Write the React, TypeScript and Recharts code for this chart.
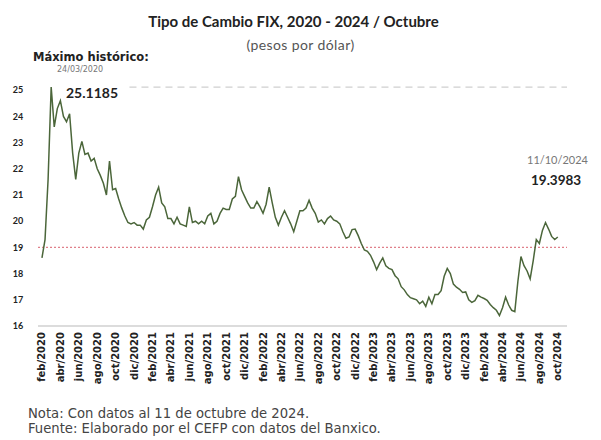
import React from "react";
import { LineChart, Line, XAxis, YAxis, ReferenceLine } from "recharts";

// Tipo de cambio FIX, lecturas cada ~10 dias desde feb/2020
const fix2020 = [
  18.6, 19.3, 21.6, 25.1185, 23.6, 24.3, 24.6, 24.0, 23.8, 24.1, 22.6, 21.6, 22.6, 23.05, 22.55, 22.6, 22.3,
  22.4, 22.0, 21.75, 21.45, 21.0, 22.3, 21.2, 21.25, 20.85, 20.5, 20.2, 19.95, 19.9, 19.95, 19.85, 19.85,
];
const fix2021 = [
  19.7, 20.05, 20.15, 20.55, 21.0, 21.3, 20.7, 20.55, 20.1, 20.1, 19.9, 20.15, 19.9, 19.85, 19.8, 20.55, 19.95,
  20.0, 19.9, 20.0, 19.9, 20.2, 20.3, 19.9, 20.0, 20.3, 20.5, 20.45, 20.45, 20.85, 20.95, 21.7, 21.2, 20.95, 20.7, 20.5,
];
const fix2022 = [
  20.5, 20.75, 20.55, 20.3, 20.65, 21.3, 20.7, 20.15, 19.85, 20.15, 20.4, 20.15, 19.9, 19.6, 20.0, 20.4, 20.4,
  20.5, 20.8, 20.5, 20.3, 19.97, 20.05, 19.9, 20.1, 20.2, 20.05, 20.0, 19.9, 19.6, 19.35, 19.4, 19.68, 19.7, 19.45, 19.15,
];
const fix2023 = [
  18.9, 18.85, 18.7, 18.45, 18.15, 18.4, 18.6, 18.3, 18.2, 18.15, 17.92, 17.8, 17.5, 17.38, 17.2, 17.08, 17.04,
  17.0, 16.85, 16.95, 16.75, 17.1, 16.85, 17.2, 17.2, 17.35, 17.9, 18.2, 18.0, 17.6, 17.48, 17.4, 17.28, 17.3, 17.0, 16.9,
];
const fix2024 = [
  16.97, 17.17, 17.1, 17.05, 16.98, 16.82, 16.7, 16.6, 16.4, 16.7, 17.1, 16.8, 16.6, 16.55, 17.7, 18.65, 18.3,
  18.1, 17.8, 18.5, 19.3, 19.15, 19.65, 19.95, 19.7, 19.42, 19.3, 19.3983,
];

const xTickLabels = [
  "feb/2020", "abr/2020", "jun/2020", "ago/2020", "oct/2020", "dic/2020",
  "feb/2021", "abr/2021", "jun/2021", "ago/2021", "oct/2021", "dic/2021",
  "feb/2022", "abr/2022", "jun/2022", "ago/2022", "oct/2022", "dic/2022",
  "feb/2023", "abr/2023", "jun/2023", "ago/2023", "oct/2023", "dic/2023",
  "feb/2024", "abr/2024", "jun/2024", "ago/2024", "oct/2024",
];
const yTicks = [16, 17, 18, 19, 20, 21, 22, 23, 24, 25];

const maxValue = 25.1185;
const refValue = 19;

// meses desde feb/2020 (3 lecturas por mes)
const series = [...fix2020, ...fix2021, ...fix2022, ...fix2023, ...fix2024];
const chartData = series.map((v, i) => ({ m: i / 3, fix: v }));
const xTicks = xTickLabels.map((_, i) => i * 2);

const FONT = "Lato, 'Open Sans', sans-serif";
const WIDE = "'DejaVu Sans', sans-serif";

const XTick = ({ x, y, payload }: any) => (
  <g transform={`translate(${x},${y})`}>
    <text transform="rotate(-90)" x={-6} y={0} textAnchor="end" dominantBaseline="central"
      fontSize={10} fontWeight={700} fill="#222" fontFamily={WIDE}>
      {xTickLabels[Math.round(payload.value / 2)]}
    </text>
  </g>
);

const YTick = ({ x, y, payload }: any) => (
  <text x={x - 20} y={y} dy="0.35em" textAnchor="middle" fontSize={9} fontWeight={700} fill="#222" fontFamily={FONT}>
    {payload.value}
  </text>
);

export default function App() {
  return (
    <div style={{ position: "absolute", left: 0, top: 0, width: 601, height: 440, background: "#fff", fontFamily: FONT, color: "#222" }}>
      <LineChart width={601} height={440} data={chartData} margin={{ top: 85, right: 34, bottom: 44, left: 0 }}>
        <XAxis type="number" dataKey="m" domain={[-0.43, 57]} ticks={xTicks} interval={0} allowDataOverflow
          tick={<XTick />} tickLine={false} tickSize={0} tickMargin={0} height={70}
          axisLine={{ stroke: "#dcdcdc", strokeWidth: 2 }} />
        <YAxis type="number" domain={[16, 25.2]} ticks={yTicks} interval={0} width={38}
          tick={<YTick />} tickLine={false} axisLine={false} tickSize={0} tickMargin={0} />
        <ReferenceLine y={refValue} stroke="#e0808a" strokeWidth={1.3} strokeDasharray="2 2" />
        <ReferenceLine segment={[{ x: 9.5, y: maxValue }, { x: 57, y: maxValue }]} stroke="#cfcfcf" strokeWidth={1.3} strokeDasharray="7 5" />
        <Line type="linear" dataKey="fix" stroke="#4b663a" strokeWidth={1.5} dot={false} isAnimationActive={false} />
      </LineChart>

      <div style={{ position: "absolute", left: 0, width: 601, top: 12, textAlign: "center", fontSize: 15, fontWeight: 700 }}>
        <span style={{ position: "relative", left: -7 }}>Tipo de Cambio FIX, 2020 - 2024 / Octubre</span>
      </div>
      <div style={{ position: "absolute", left: 0, width: 601, top: 36, textAlign: "center", fontSize: 14, color: "#555", letterSpacing: 0.4 }}>
        (pesos por dólar)
      </div>

      <div style={{ position: "absolute", left: 33, top: 50, fontSize: 11.5, fontWeight: 700, fontFamily: WIDE }}>Máximo histórico:</div>
      <div style={{ position: "absolute", left: 57, top: 65, fontSize: 8, color: "#777", fontFamily: WIDE }}>24/03/2020</div>
      <div style={{ position: "absolute", left: 66, top: 84, fontSize: 14, fontWeight: 700 }}>25.1185</div>

      <div style={{ position: "absolute", left: 527, top: 153, fontSize: 11, color: "#777" }}>11/10/2024</div>
      <div style={{ position: "absolute", left: 531, top: 172, fontSize: 13.5, fontWeight: 700 }}>19.3983</div>

      <div style={{ position: "absolute", left: 28, top: 406, fontSize: 13.2, color: "#444", fontFamily: WIDE }}>Nota: Con datos al 11 de octubre de 2024.</div>
      <div style={{ position: "absolute", left: 28, top: 421, fontSize: 13.2, color: "#444", fontFamily: WIDE }}>Fuente: Elaborado por el CEFP con datos del Banxico.</div>
    </div>
  );
}
